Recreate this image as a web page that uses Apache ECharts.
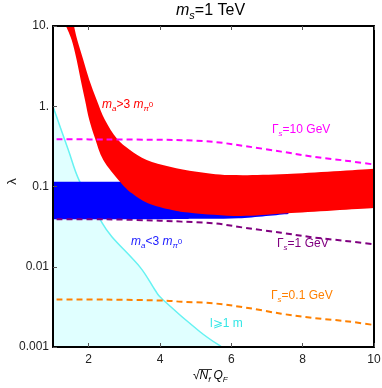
<!DOCTYPE html>
<html>
<head>
<meta charset="utf-8">
<script src="https://cdn.jsdelivr.net/npm/echarts@6/dist/echarts.min.js"></script>
<style>
  html, body { margin: 0; padding: 0; background: #fff; }
  #chart { width: 382px; height: 388px; }
</style>
</head>
<body>
<div id="chart"></div>
<script>
// x ticks / y ticks
const xTicks = [2, 4, 6, 8, 10];
const xTickLabels = ['2', '4', '6', '8', '10'];
const yTicks = [0.001, 0.01, 0.1, 1, 10];
const yTickLabels = ['0.001', '0.01', '0.1', '1.', '10.'];

// red band (m_a > 3 m_pi0): upper and lower edges
const redUpperX = [1.589, 1.681, 1.85, 2.018, 2.225, 2.458, 2.786, 3.159, 3.627, 4.28, 5.029, 5.963, 7.561, 10];
const redUpperY = [10, 6.69, 3.77, 2.12, 1.2, 0.674, 0.399, 0.285, 0.214, 0.1766, 0.153, 0.139, 0.143, 0.166];
const redLowerX = [1.364, 1.524, 1.664, 1.777, 1.897, 2.018, 2.178, 2.41, 2.878, 3.215, 3.663, 4.336, 4.897, 6.243, 7.561, 10];
const redLowerY = [10, 6.69, 3.77, 2.12, 1.2, 0.674, 0.399, 0.214, 0.115, 0.0822, 0.0618, 0.0509, 0.0468, 0.0429, 0.0463, 0.054];

// blue band (m_a < 3 m_pi0)
const blueTopX = [1, 7.6];
const blueTopY = [0.115, 0.115];
const blueBottomX = [1, 4, 5, 6.2, 7.6];
const blueBottomY = [0.039, 0.039, 0.0395, 0.0402, 0.0455];

// decay length l >= 1 m
const cyanX = [1.0, 1.43, 1.73, 2.32, 2.65, 3.44, 3.86, 4.09, 5.12, 5.73];
const cyanY = [0.99, 0.285, 0.12, 0.039, 0.0237, 0.0099, 0.00513, 0.00385, 0.00155, 0.001];

// width contours
const gammaX = [1.1, 2.5, 4.0, 4.6, 5.5, 6.4, 7.4, 8.3, 9.2, 10];
const gamma10 = [0.387, 0.386, 0.382, 0.378, 0.36, 0.318, 0.272, 0.235, 0.21, 0.188];
const gamma1 = [0.039, 0.039, 0.0375, 0.0365, 0.0348, 0.0305, 0.0265, 0.0232, 0.021, 0.019];
const gamma01 = [0.0039, 0.0039, 0.0038, 0.00367, 0.0035, 0.0031, 0.0026, 0.0023, 0.0021, 0.00188];

const FONT = '"Liberation Sans", Arial, sans-serif';

const zip = (xs, ys) => xs.map((x, i) => [x, ys[i]]);

// smooth curve through pixel points (cubic bezier segments)
function curveTo(pts) {
  let d = '';
  for (let i = 0; i < pts.length - 1; i++) {
    const p0 = pts[i - 1] || pts[i];
    const p1 = pts[i];
    const p2 = pts[i + 1];
    const p3 = pts[i + 2] || pts[i + 1];
    const c1 = [p1[0] + (p2[0] - p0[0]) / 6, p1[1] + (p2[1] - p0[1]) / 6];
    const c2 = [p2[0] - (p3[0] - p1[0]) / 6, p2[1] - (p3[1] - p1[1]) / 6];
    d += 'C' + c1.join(' ') + ' ' + c2.join(' ') + ' ' + p2.join(' ');
  }
  return d;
}

// closed region: smooth edge a, then smooth edge b (already in drawing order)
function bandSeries(edgeA, edgeB, color, z) {
  return {
    type: 'custom',
    coordinateSystem: 'cartesian2d',
    silent: true,
    clip: true,
    z: z,
    data: [[1, 1]],
    renderItem: (params, api) => {
      const a = edgeA.map(p => api.coord(p));
      const b = edgeB.map(p => api.coord(p));
      let d = 'M' + a[0].join(' ') + curveTo(a);
      d += 'L' + b[0].join(' ') + (b.length > 1 ? curveTo(b) : '') + 'Z';
      return {
        type: 'path',
        shape: { pathData: d },
        style: { fill: color, stroke: null }
      };
    }
  };
}

// smooth open curve, same drawing as the band edges
function curveSeries(points, lineStyle, z) {
  return {
    type: 'custom',
    coordinateSystem: 'cartesian2d',
    silent: true,
    clip: true,
    z: z,
    data: [[1, 1]],
    renderItem: (params, api) => {
      const a = points.map(p => api.coord(p));
      return {
        type: 'path',
        shape: { pathData: 'M' + a[0].join(' ') + curveTo(a) },
        style: Object.assign({ fill: null }, lineStyle)
      };
    }
  };
}

function dashSeries(ys, color) {
  return curveSeries(zip(gammaX, ys), { stroke: color, lineWidth: 2, lineDash: [6, 4] }, 6);
}

function richStyles(color, size, sub) {
  return {
    n: { fill: color, fontSize: size, fontFamily: FONT },
    i: { fill: color, fontSize: size, fontFamily: FONT, fontStyle: 'italic' },
    q: { fill: color, fontSize: size, fontFamily: FONT, fontStyle: 'italic', padding: [0, 0, 0, 3] },
    s: { fill: color, fontSize: sub, fontFamily: FONT, fontStyle: 'italic', verticalAlign: 'bottom' },
    z: { fill: color, fontSize: sub, fontFamily: FONT }
  };
}

function label(text, x, y, color, size, sub) {
  return {
    type: 'text',
    x: x,
    y: y,
    z: 50,
    style: {
      text: text,
      rich: richStyles(color, size, sub),
      verticalAlign: 'middle',
      align: 'left',
      lineHeight: size + 4
    }
  };
}

const redA = zip(redUpperX, redUpperY);
const redB = zip(redLowerX, redLowerY).reverse();
const blueA = zip(blueTopX, blueTopY);
const blueB = zip(blueBottomX, blueBottomY).reverse();
const cyanA = zip(cyanX, cyanY);
const cyanB = [[1, 0.001]];

const chart = echarts.init(document.getElementById('chart'));

const tickLine = { color: '#555', width: 1 };
const frameLine = { color: '#000', width: 2 };

const option = {
  animation: false,
  grid: { left: 53, top: 26, right: 8, bottom: 41, containLabel: false, outerBoundsMode: 'none' },
  xAxis: [
    {
      type: 'value', min: 1, max: 10, position: 'bottom', z: 10,
      axisLine: { show: true, lineStyle: frameLine },
      axisTick: { show: true, inside: true, length: 4, customValues: xTicks, lineStyle: tickLine },
      axisLabel: {
        customValues: xTicks, margin: 7, fontSize: 12, color: '#222', fontFamily: FONT,
        formatter: v => xTickLabels[xTicks.indexOf(v)]
      },
      splitLine: { show: false }
    },
    {
      type: 'value', min: 1, max: 10, position: 'top', z: 10,
      axisLine: { show: true, lineStyle: frameLine },
      axisTick: { show: true, inside: true, length: 4, customValues: xTicks, lineStyle: tickLine },
      axisLabel: { show: false },
      splitLine: { show: false }
    }
  ],
  yAxis: [
    {
      type: 'log', logBase: 10, min: 0.001, max: 10, position: 'left', z: 10,
      name: 'λ', nameLocation: 'middle', nameRotate: 90, nameGap: 34, nameMoveOverlap: false,
      nameTextStyle: { fontSize: 13, color: '#222', fontFamily: FONT, padding: [0, 0, 0, 10] },
      axisLine: { show: true, lineStyle: frameLine },
      axisTick: { show: true, inside: true, length: 4, lineStyle: tickLine },
      axisLabel: {
        margin: 4, fontSize: 12, color: '#222', fontFamily: FONT,
        formatter: v => {
          const k = yTicks.findIndex(t => Math.abs(Math.log10(t) - Math.log10(v)) < 1e-6);
          return k >= 0 ? yTickLabels[k] : '';
        }
      },
      splitLine: { show: false }
    },
    {
      type: 'log', logBase: 10, min: 0.001, max: 10, position: 'right', z: 10,
      axisLine: { show: true, lineStyle: frameLine },
      axisTick: { show: false },
      axisLabel: { show: false },
      splitLine: { show: false }
    }
  ],
  series: [
    bandSeries(cyanA, cyanB, '#e0ffff', 1),
    curveSeries(cyanA, { stroke: '#66f2f2', lineWidth: 1.5 }, 2),
    bandSeries(blueA, blueB, '#0000ff', 3),
    bandSeries(redA, redB, '#ff0000', 4),
    dashSeries(gamma10, '#ff00ff'),
    dashSeries(gamma1, '#800080'),
    dashSeries(gamma01, '#ff8000')
  ],
  graphic: [
    label('{i|m}{s|s}{n|=1 TeV}', 176, 11, '#000', 16, 11),
    label('{i|m}{s|a}{n|>3 }{i|m}{s|π}{z|0}', 102, 105, '#ff0000', 12, 8),
    label('{i|m}{s|a}{n|<3 }{i|m}{s|π}{z|0}', 131, 242, '#2020ff', 12, 8),
    label('{n|Γ}{s|s}{n|=10 GeV}', 272, 130, '#ff00ff', 12, 8),
    label('{n|Γ}{s|s}{n|=1 GeV}', 277, 244, '#800080', 12, 8),
    label('{n|Γ}{s|s}{n|=0.1 GeV}', 271, 296, '#ff8000', 12, 8),
    label('{n|l⩾1 m}', 210, 324, '#33e6e6', 12, 8),
    label('{n|√}{i|N}{s|f}{q|Q}{s|F}', 193, 376, '#000', 12, 8),
    {
      type: 'line', z: 50,
      shape: { x1: 199, y1: 369.5, x2: 212, y2: 369.5 },
      style: { stroke: '#000', lineWidth: 0.8 }
    }
  ]
};

chart.setOption(option);
</script>
</body>
</html>
